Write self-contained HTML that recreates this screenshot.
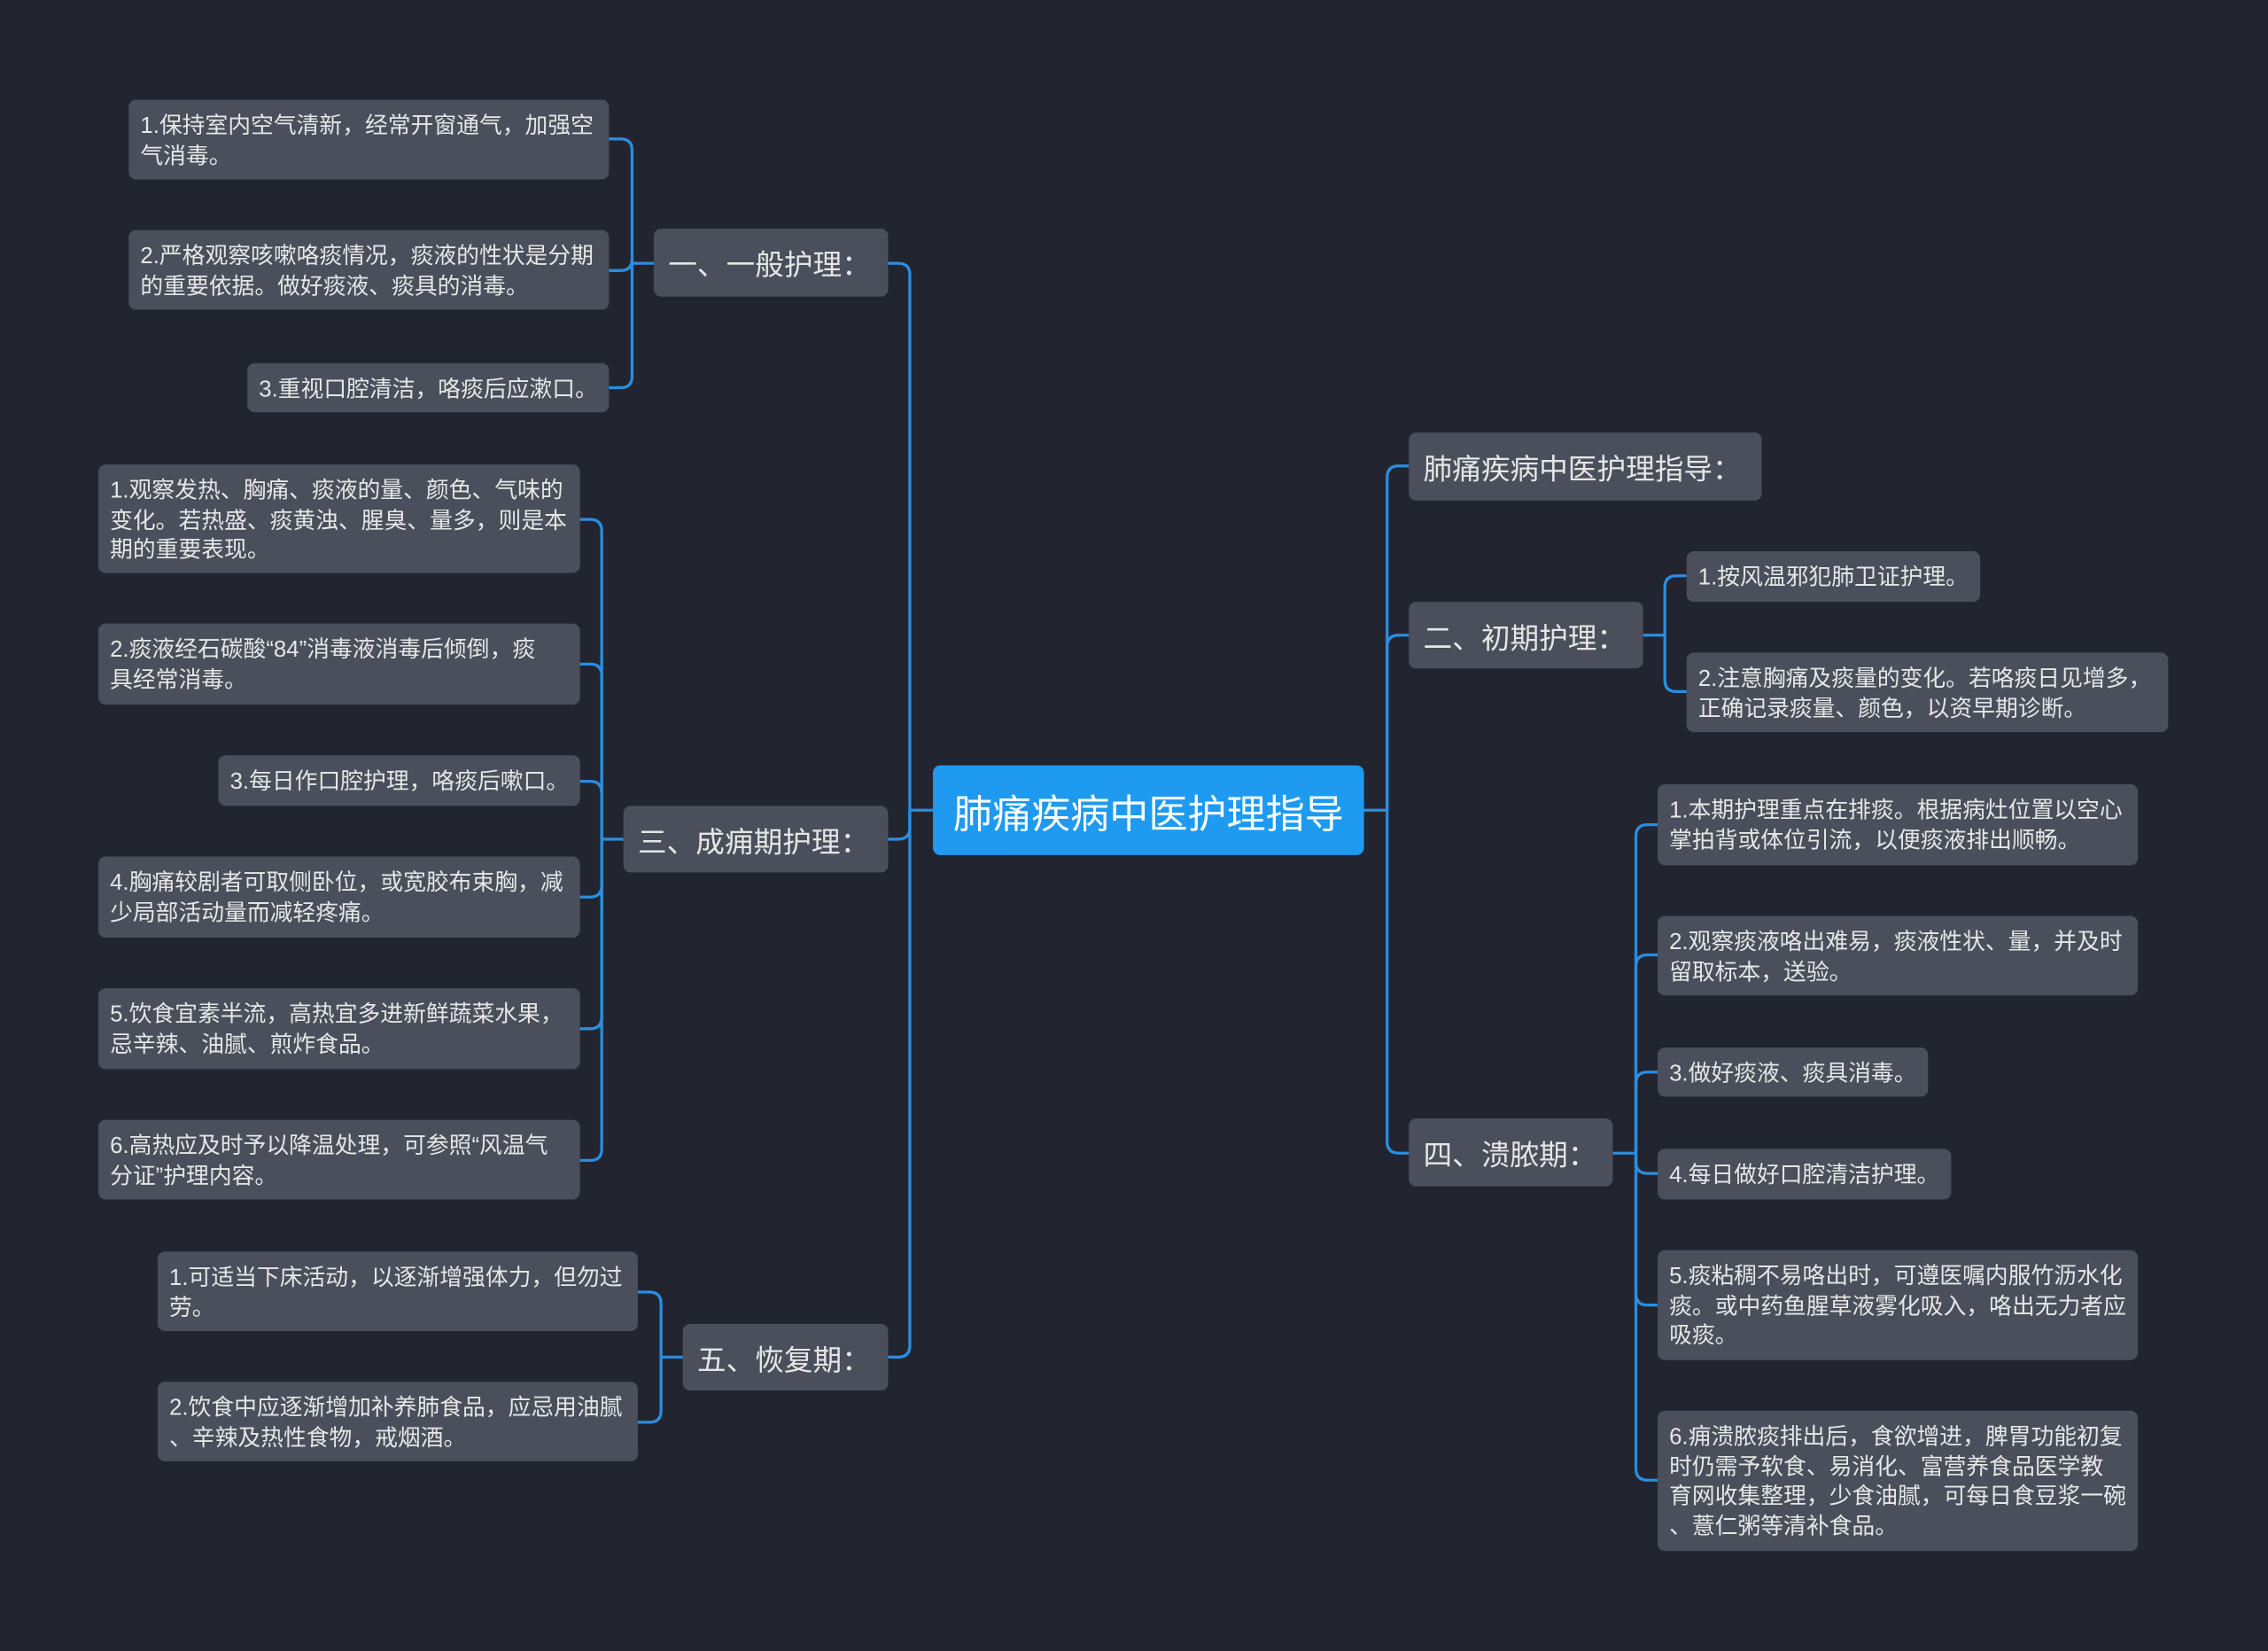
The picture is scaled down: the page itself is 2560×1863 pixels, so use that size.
<!DOCTYPE html>
<html><head><meta charset="utf-8">
<style>
html,body{margin:0;padding:0;background:#22252f;}
#wrap{position:relative;width:2560px;height:1863px;overflow:hidden;background:#22252f;}
#s{position:absolute;left:0;top:0;width:1568px;height:1141px;transform:scale(1.63265);transform-origin:0 0;}
.n{position:absolute;background:#4a4f5b;border-radius:5px;color:#e6e6e6;font-family:"Liberation Sans","Noto Sans CJK SC",sans-serif;box-sizing:border-box;white-space:nowrap;}
.l{font-size:15.8px;line-height:20.5px;padding:9px 8px 0 8px;}
.b{font-size:20px;display:flex;align-items:center;padding-left:10px;}
.c{background:#1e9af0;color:#fff;font-size:27px;display:flex;align-items:center;justify-content:center;border-radius:5px;}
svg{position:absolute;left:0;top:0;}
path{fill:none;stroke:#2a8ee0;stroke-width:2;}
</style></head><body><div id="wrap"><div id="s">
<svg width="1568" height="1141">
<path d="M645 560 H629"/>
<path d="M629 560 V190 Q629 182 621 182 H614"/>
<path d="M629 560 V572 Q629 580 621 580 H614"/>
<path d="M629 560 V930 Q629 938 621 938 H614"/>
<path d="M452 182 H437"/>
<path d="M437 182 V104 Q437 96 429 96 H421"/>
<path d="M437 182 V179 Q437 187 429 187 H421"/>
<path d="M437 182 V260 Q437 268 429 268 H421"/>
<path d="M431 580 H416"/>
<path d="M416 580 V367 Q416 359 408 359 H401"/>
<path d="M416 580 V467 Q416 459 408 459 H401"/>
<path d="M416 580 V548 Q416 540 408 540 H401"/>
<path d="M416 580 V612 Q416 620 408 620 H401"/>
<path d="M416 580 V703 Q416 711 408 711 H401"/>
<path d="M416 580 V794 Q416 802 408 802 H401"/>
<path d="M472 938 H457"/>
<path d="M457 938 V901 Q457 893 449 893 H441"/>
<path d="M457 938 V975 Q457 983 449 983 H441"/>
<path d="M943 560 H959"/>
<path d="M959 560 V330 Q959 322 967 322 H974"/>
<path d="M959 560 V447 Q959 439 967 439 H974"/>
<path d="M959 560 V789 Q959 797 967 797 H974"/>
<path d="M1136 439 H1151"/>
<path d="M1151 439 V406 Q1151 398 1159 398 H1166"/>
<path d="M1151 439 V470 Q1151 478 1159 478 H1166"/>
<path d="M1115 797 H1131"/>
<path d="M1131 797 V578 Q1131 570 1139 570 H1146"/>
<path d="M1131 797 V668 Q1131 660 1139 660 H1146"/>
<path d="M1131 797 V749 Q1131 741 1139 741 H1146"/>
<path d="M1131 797 V803 Q1131 811 1139 811 H1146"/>
<path d="M1131 797 V894 Q1131 902 1139 902 H1146"/>
<path d="M1131 797 V1015 Q1131 1023 1139 1023 H1146"/>
</svg>

<div class="n c" style="left:645px;top:529px;width:298px;height:62px;">肺痛疾病中医护理指导</div>

<div class="n b" style="left:452px;top:158px;width:162px;height:47px;">一、一般护理：</div>
<div class="n b" style="left:431px;top:557px;width:183px;height:46px;">三、成痈期护理：</div>
<div class="n b" style="left:472px;top:915px;width:142px;height:46px;">五、恢复期：</div>
<div class="n b" style="left:974px;top:299px;width:244px;height:47px;">肺痛疾病中医护理指导：</div>
<div class="n b" style="left:974px;top:416px;width:162px;height:46px;">二、初期护理：</div>
<div class="n b" style="left:974px;top:773px;width:141px;height:47px;">四、溃脓期：</div>

<div class="n l" style="left:89px;top:69px;width:332px;height:55px;">1.保持室内空气清新，经常开窗通气，加强空<br>气消毒。</div>
<div class="n l" style="left:89px;top:159px;width:332px;height:55px;">2.严格观察咳嗽咯痰情况，痰液的性状是分期<br>的重要依据。做好痰液、痰具的消毒。</div>
<div class="n l" style="left:171px;top:251px;width:250px;height:34px;">3.重视口腔清洁，咯痰后应漱口。</div>

<div class="n l" style="left:68px;top:321px;width:333px;height:75px;">1.观察发热、胸痛、痰液的量、颜色、气味的<br>变化。若热盛、痰黄浊、腥臭、量多，则是本<br>期的重要表现。</div>
<div class="n l" style="left:68px;top:431px;width:333px;height:56px;">2.痰液经石碳酸“84”消毒液消毒后倾倒，痰<br>具经常消毒。</div>
<div class="n l" style="left:151px;top:522px;width:250px;height:35px;">3.每日作口腔护理，咯痰后嗽口。</div>
<div class="n l" style="left:68px;top:592px;width:333px;height:56px;">4.胸痛较剧者可取侧卧位，或宽胶布束胸，减<br>少局部活动量而减轻疼痛。</div>
<div class="n l" style="left:68px;top:683px;width:333px;height:56px;">5.饮食宜素半流，高热宜多进新鲜蔬菜水果，<br>忌辛辣、油腻、煎炸食品。</div>
<div class="n l" style="left:68px;top:774px;width:333px;height:55px;">6.高热应及时予以降温处理，可参照“风温气<br>分证”护理内容。</div>

<div class="n l" style="left:109px;top:865px;width:332px;height:55px;">1.可适当下床活动，以逐渐增强体力，但勿过<br>劳。</div>
<div class="n l" style="left:109px;top:955px;width:332px;height:55px;">2.饮食中应逐渐增加补养肺食品，应忌用油腻<br>、辛辣及热性食物，戒烟酒。</div>

<div class="n l" style="left:1166px;top:381px;width:203px;height:35px;">1.按风温邪犯肺卫证护理。</div>
<div class="n l" style="left:1166px;top:451px;width:333px;height:55px;">2.注意胸痛及痰量的变化。若咯痰日见增多，<br>正确记录痰量、颜色，以资早期诊断。</div>

<div class="n l" style="left:1146px;top:542px;width:332px;height:56px;">1.本期护理重点在排痰。根据病灶位置以空心<br>掌拍背或体位引流，以便痰液排出顺畅。</div>
<div class="n l" style="left:1146px;top:633px;width:332px;height:55px;">2.观察痰液咯出难易，痰液性状、量，并及时<br>留取标本，送验。</div>
<div class="n l" style="left:1146px;top:724px;width:187px;height:34px;">3.做好痰液、痰具消毒。</div>
<div class="n l" style="left:1146px;top:794px;width:203px;height:35px;">4.每日做好口腔清洁护理。</div>
<div class="n l" style="left:1146px;top:864px;width:332px;height:76px;">5.痰粘稠不易咯出时，可遵医嘱内服竹沥水化<br>痰。或中药鱼腥草液雾化吸入，咯出无力者应<br>吸痰。</div>
<div class="n l" style="left:1146px;top:975px;width:332px;height:97px;">6.痈溃脓痰排出后，食欲增进，脾胃功能初复<br>时仍需予软食、易消化、富营养食品医学教<br>育网收集整理，少食油腻，可每日食豆浆一碗<br>、薏仁粥等清补食品。</div>
</div></div></body></html>
